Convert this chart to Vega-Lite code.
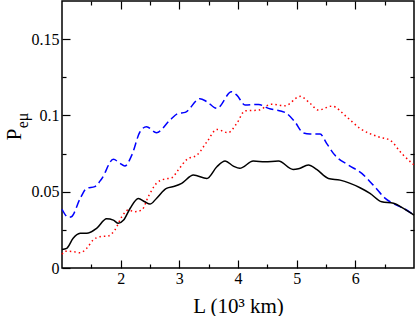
{
  "$schema": "https://vega.github.io/schema/vega-lite/v6.json",
  "width": 352,
  "height": 267,
  "autosize": "none",
  "padding": {"left": 62, "top": 1, "right": 1, "bottom": 48},
  "background": "white",
  "config": {
    "view": {"stroke": "black", "strokeWidth": 1.5},
    "axis": {"grid": false, "domain": false, "tickColor": "black", "tickWidth": 1.2, "labelColor": "black", "labelFont": "Liberation Serif", "labelFontSize": 16, "titleFont": "Liberation Serif", "titleColor": "black", "titleFontWeight": "normal"}
  },
  "datasets": {
    "curves": [
      {"s": "black", "x": 1.00, "y": 0.0122}, {"s": "black", "x": 1.08, "y": 0.0129}, {"s": "black", "x": 1.19, "y": 0.0195}, {"s": "black", "x": 1.31, "y": 0.0227}, {"s": "black", "x": 1.45, "y": 0.0230}, {"s": "black", "x": 1.59, "y": 0.0260}, {"s": "black", "x": 1.76, "y": 0.0323}, {"s": "black", "x": 1.875, "y": 0.0314}, {"s": "black", "x": 1.96, "y": 0.0293}, {"s": "black", "x": 2.05, "y": 0.0314}, {"s": "black", "x": 2.16, "y": 0.0390}, {"s": "black", "x": 2.30, "y": 0.0456}, {"s": "black", "x": 2.41, "y": 0.0434}, {"s": "black", "x": 2.50, "y": 0.0419}, {"s": "black", "x": 2.61, "y": 0.0456}, {"s": "black", "x": 2.78, "y": 0.0522}, {"s": "black", "x": 2.93, "y": 0.0537}, {"s": "black", "x": 3.04, "y": 0.0555}, {"s": "black", "x": 3.24, "y": 0.0609}, {"s": "black", "x": 3.47, "y": 0.0587}, {"s": "black", "x": 3.64, "y": 0.0664}, {"s": "black", "x": 3.78, "y": 0.0701}, {"s": "black", "x": 3.92, "y": 0.0668}, {"s": "black", "x": 4.03, "y": 0.0653}, {"s": "black", "x": 4.26, "y": 0.0701}, {"s": "black", "x": 4.46, "y": 0.0696}, {"s": "black", "x": 4.69, "y": 0.0701}, {"s": "black", "x": 4.94, "y": 0.0646}, {"s": "black", "x": 5.03, "y": 0.0650}, {"s": "black", "x": 5.20, "y": 0.0675}, {"s": "black", "x": 5.34, "y": 0.0646}, {"s": "black", "x": 5.54, "y": 0.0587}, {"s": "black", "x": 5.74, "y": 0.0576}, {"s": "black", "x": 6.08, "y": 0.0526}, {"s": "black", "x": 6.25, "y": 0.0489}, {"s": "black", "x": 6.45, "y": 0.0434}, {"s": "black", "x": 6.65, "y": 0.0424}, {"s": "black", "x": 6.82, "y": 0.0391}, {"s": "black", "x": 7.00, "y": 0.0347},
      {"s": "blue", "x": 1.00, "y": 0.0385}, {"s": "blue", "x": 1.11, "y": 0.0332}, {"s": "blue", "x": 1.16, "y": 0.0336}, {"s": "blue", "x": 1.31, "y": 0.0456}, {"s": "blue", "x": 1.42, "y": 0.0522}, {"s": "blue", "x": 1.56, "y": 0.0533}, {"s": "blue", "x": 1.68, "y": 0.0587}, {"s": "blue", "x": 1.875, "y": 0.0712}, {"s": "blue", "x": 1.99, "y": 0.0686}, {"s": "blue", "x": 2.07, "y": 0.0668}, {"s": "blue", "x": 2.19, "y": 0.0740}, {"s": "blue", "x": 2.33, "y": 0.0893}, {"s": "blue", "x": 2.44, "y": 0.0926}, {"s": "blue", "x": 2.61, "y": 0.0887}, {"s": "blue", "x": 2.84, "y": 0.0969}, {"s": "blue", "x": 2.98, "y": 0.1013}, {"s": "blue", "x": 3.10, "y": 0.1020}, {"s": "blue", "x": 3.35, "y": 0.1110}, {"s": "blue", "x": 3.47, "y": 0.1090}, {"s": "blue", "x": 3.64, "y": 0.1046}, {"s": "blue", "x": 3.89, "y": 0.1155}, {"s": "blue", "x": 3.98, "y": 0.1133}, {"s": "blue", "x": 4.12, "y": 0.1068}, {"s": "blue", "x": 4.35, "y": 0.1072}, {"s": "blue", "x": 4.52, "y": 0.1046}, {"s": "blue", "x": 4.80, "y": 0.1020}, {"s": "blue", "x": 4.97, "y": 0.0958}, {"s": "blue", "x": 5.11, "y": 0.0886}, {"s": "blue", "x": 5.23, "y": 0.0878}, {"s": "blue", "x": 5.40, "y": 0.0878}, {"s": "blue", "x": 5.51, "y": 0.0817}, {"s": "blue", "x": 5.65, "y": 0.0740}, {"s": "blue", "x": 5.88, "y": 0.0675}, {"s": "blue", "x": 6.11, "y": 0.0620}, {"s": "blue", "x": 6.33, "y": 0.0533}, {"s": "blue", "x": 6.51, "y": 0.0456}, {"s": "blue", "x": 6.70, "y": 0.0413}, {"s": "blue", "x": 6.85, "y": 0.0385}, {"s": "blue", "x": 7.00, "y": 0.0347},
      {"s": "red", "x": 1.00, "y": 0.0090}, {"s": "red", "x": 1.06, "y": 0.0110}, {"s": "red", "x": 1.19, "y": 0.0107}, {"s": "red", "x": 1.31, "y": 0.0100}, {"s": "red", "x": 1.42, "y": 0.0129}, {"s": "red", "x": 1.53, "y": 0.0183}, {"s": "red", "x": 1.65, "y": 0.0205}, {"s": "red", "x": 1.79, "y": 0.0210}, {"s": "red", "x": 1.90, "y": 0.0249}, {"s": "red", "x": 2.02, "y": 0.0336}, {"s": "red", "x": 2.13, "y": 0.0380}, {"s": "red", "x": 2.24, "y": 0.0369}, {"s": "red", "x": 2.36, "y": 0.0380}, {"s": "red", "x": 2.47, "y": 0.0467}, {"s": "red", "x": 2.61, "y": 0.0555}, {"s": "red", "x": 2.73, "y": 0.0581}, {"s": "red", "x": 2.87, "y": 0.0591}, {"s": "red", "x": 2.98, "y": 0.0642}, {"s": "red", "x": 3.13, "y": 0.0712}, {"s": "red", "x": 3.30, "y": 0.0740}, {"s": "red", "x": 3.47, "y": 0.0827}, {"s": "red", "x": 3.64, "y": 0.0908}, {"s": "red", "x": 3.83, "y": 0.0887}, {"s": "red", "x": 3.98, "y": 0.0948}, {"s": "red", "x": 4.12, "y": 0.1030}, {"s": "red", "x": 4.35, "y": 0.1035}, {"s": "red", "x": 4.57, "y": 0.1074}, {"s": "red", "x": 4.80, "y": 0.1063}, {"s": "red", "x": 5.06, "y": 0.1125}, {"s": "red", "x": 5.23, "y": 0.1079}, {"s": "red", "x": 5.37, "y": 0.1035}, {"s": "red", "x": 5.60, "y": 0.1061}, {"s": "red", "x": 5.85, "y": 0.0991}, {"s": "red", "x": 6.08, "y": 0.0915}, {"s": "red", "x": 6.39, "y": 0.0860}, {"s": "red", "x": 6.59, "y": 0.0838}, {"s": "red", "x": 6.79, "y": 0.0751}, {"s": "red", "x": 7.00, "y": 0.0675}
    ]
  },
  "data": {"name": "curves"},
  "resolve": {"axis": {"x": "independent", "y": "independent"}},
  "layer": [
    {
      "transform": [{"filter": "datum.s === 'red'"}],
      "mark": {"type": "line", "color": "#ff0000", "strokeWidth": 1.5, "strokeDash": [1.5, 3], "interpolate": "monotone"},
      "encoding": {
        "x": {"field": "x", "type": "quantitative", "scale": {"domain": [1, 7], "nice": false, "zero": false},
              "axis": {"orient": "bottom", "values": [2, 3, 4, 5, 6], "tickSize": -8, "labelPadding": 23, "labelBaseline": "alphabetic", "labelExpr": "datum.value", "title": "L (10³ km)", "titleFontSize": 21, "titleBaseline": "alphabetic", "titleY": 44, "titleX": 176}},
        "y": {"field": "y", "type": "quantitative", "scale": {"domain": [0, 0.175], "nice": false, "zero": false},
              "axis": {"orient": "left", "values": [0, 0.05, 0.1, 0.15], "tickSize": -8, "labelPadding": 11, "labelExpr": "datum.value", "title": "P", "titleFontSize": 21, "titleAngle": 270, "titleBaseline": "alphabetic", "titleAlign": "center", "titleX": -42, "titleY": 133}}
      }
    },
    {
      "transform": [{"filter": "datum.s === 'blue'"}],
      "mark": {"type": "line", "color": "#0000ff", "strokeWidth": 1.5, "strokeDash": [8, 4], "interpolate": "monotone"},
      "encoding": {
        "x": {"field": "x", "type": "quantitative", "axis": {"orient": "bottom", "values": [1.5, 2.5, 3.5, 4.5, 5.5, 6.5], "tickSize": -4, "labels": false, "title": null}},
        "y": {"field": "y", "type": "quantitative", "axis": {"orient": "left", "values": [0.025, 0.075, 0.125], "tickSize": -4, "labels": false, "title": "eμ", "titleFontSize": 16, "titleAngle": 270, "titleBaseline": "alphabetic", "titleAlign": "center", "titleX": -35, "titleY": 119}}
      }
    },
    {
      "transform": [{"filter": "datum.s === 'black'"}],
      "mark": {"type": "line", "color": "#000000", "strokeWidth": 1.5, "interpolate": "monotone"},
      "encoding": {
        "x": {"field": "x", "type": "quantitative", "axis": {"orient": "top", "values": [2, 3, 4, 5, 6], "tickSize": -8, "labels": false, "title": null}},
        "y": {"field": "y", "type": "quantitative", "axis": {"orient": "right", "values": [0.05, 0.1, 0.15], "tickSize": -8, "labels": false, "title": null}}
      }
    },
    {
      "transform": [{"filter": "datum.s === 'black'"}],
      "mark": {"type": "line", "opacity": 0, "interpolate": "monotone"},
      "encoding": {
        "x": {"field": "x", "type": "quantitative", "axis": {"orient": "top", "values": [1.5, 2.5, 3.5, 4.5, 5.5, 6.5], "tickSize": -4, "labels": false, "title": null}},
        "y": {"field": "y", "type": "quantitative", "axis": {"orient": "right", "values": [0.025, 0.075, 0.125], "tickSize": -4, "labels": false, "title": null}}
      }
    }
  ]
}
